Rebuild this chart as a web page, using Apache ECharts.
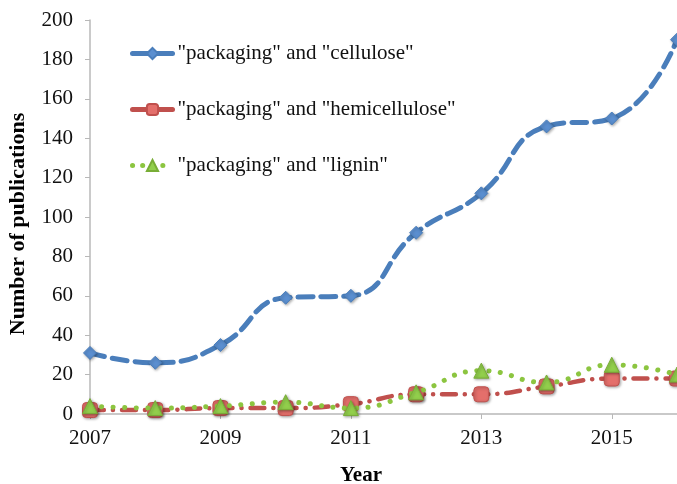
<!DOCTYPE html>
<html>
<head>
<meta charset="utf-8">
<script src="https://cdn.jsdelivr.net/npm/echarts@6/dist/echarts.min.js"></script>
<style>
  html, body { margin: 0; padding: 0; background: #fff; }
  #chart { width: 677px; height: 484px; }
</style>
</head>
<body>
<div id="chart"></div>
<script>
// Publications per year for each keyword pair
const years = ['2007', '2008', '2009', '2010', '2011', '2012', '2013', '2014', '2015', '2016'];
const cellulose = [31, 26, 35, 59, 60, 92, 112, 146, 150, 190];
const hemicellulose = [2, 2, 3, 3, 5, 10, 10, 14, 18, 18];
const lignin = [4, 3, 4, 6, 3, 11, 22, 16, 25, 20];
const seriesNames = ['"packaging" and "cellulose"', '"packaging" and "hemicellulose"', '"packaging" and "lignin"'];
const yTicks = { min: 0, max: 200, step: 20 };
const xTitle = 'Year';
const yTitle = 'Number of publications';

const serif = 'Liberation Serif, Times New Roman, serif';
const chart = echarts.init(document.getElementById('chart'));

const markerShadow = { shadowBlur: 3, shadowColor: 'rgba(0,0,0,0.35)', shadowOffsetX: 1, shadowOffsetY: 1 };

chart.setOption({
  animation: false,
  grid: { left: 90, right: -4, top: 20, bottom: 70 },
  legend: {
    orient: 'vertical',
    left: 125,
    top: 38,
    itemGap: 35,
    itemWidth: 40,
    itemHeight: 14,
    textStyle: { fontFamily: serif, fontSize: 21, lineHeight: 21, color: '#111' },
    data: [
      { name: seriesNames[0], lineStyle: { width: 5, type: 'solid' } },
      { name: seriesNames[1], lineStyle: { width: 5, type: 'solid' } },
      { name: seriesNames[2], lineStyle: { width: 5, type: [0.1, 10], cap: 'round' } }
    ]
  },
  graphic: [
    {
      type: 'text',
      x: 18, y: 224,
      rotation: Math.PI / 2,
      style: { text: yTitle, fontFamily: serif, fontSize: 22, fontWeight: 'bold', fill: '#000', align: 'center', verticalAlign: 'middle' }
    },
    {
      type: 'text',
      x: 361, y: 476,
      style: { text: xTitle, fontFamily: serif, fontSize: 21, fontWeight: 'bold', fill: '#000', align: 'center', verticalAlign: 'middle' }
    }
  ],
  xAxis: {
    type: 'category',
    data: years,
    boundaryGap: false,
    axisLine: { lineStyle: { color: '#b8b8b8', width: 1.5 } },
    axisTick: { interval: 1, length: 5, lineStyle: { color: '#b8b8b8' } },
    axisLabel: { interval: 1, fontFamily: serif, fontSize: 21, color: '#111', margin: 14 }
  },
  yAxis: {
    type: 'value',
    min: yTicks.min,
    max: yTicks.max,
    interval: yTicks.step,
    splitLine: { show: false },
    axisLine: { show: true, lineStyle: { color: '#b8b8b8', width: 1.5 } },
    axisTick: { show: true, length: 5, lineStyle: { color: '#b8b8b8' } },
    axisLabel: { fontFamily: serif, fontSize: 21, color: '#111', margin: 17 }
  },
  series: [
    {
      name: seriesNames[0],
      type: 'line',
      data: cellulose,
      smooth: 0.5,
      symbol: 'diamond',
      symbolSize: 13,
      z: 3,
      lineStyle: { color: '#4a7ebb', width: 5, type: [15, 8], cap: 'round' },
      itemStyle: Object.assign({ color: '#5b8fd0', borderColor: '#4a7ebb', borderWidth: 1 }, markerShadow)
    },
    {
      name: seriesNames[1],
      type: 'line',
      data: hemicellulose,
      smooth: 0.5,
      symbol: 'roundRect',
      symbolSize: 15,
      z: 2,
      lineStyle: { color: '#c0504d', width: 4.5, type: [14, 9, 0.1, 9], cap: 'round' },
      itemStyle: Object.assign({ color: '#e46f6b', borderColor: '#c0504d', borderWidth: 1 }, markerShadow)
    },
    {
      name: seriesNames[2],
      type: 'line',
      data: lignin,
      smooth: 0.5,
      symbol: 'triangle',
      symbolSize: 15,
      z: 4,
      lineStyle: { color: '#8cc540', width: 5, type: [0.1, 11.5], cap: 'round' },
      itemStyle: Object.assign({ color: '#92cf4c', borderColor: '#78ad36', borderWidth: 1 }, markerShadow)
    }
  ]
});
</script>
</body>
</html>
